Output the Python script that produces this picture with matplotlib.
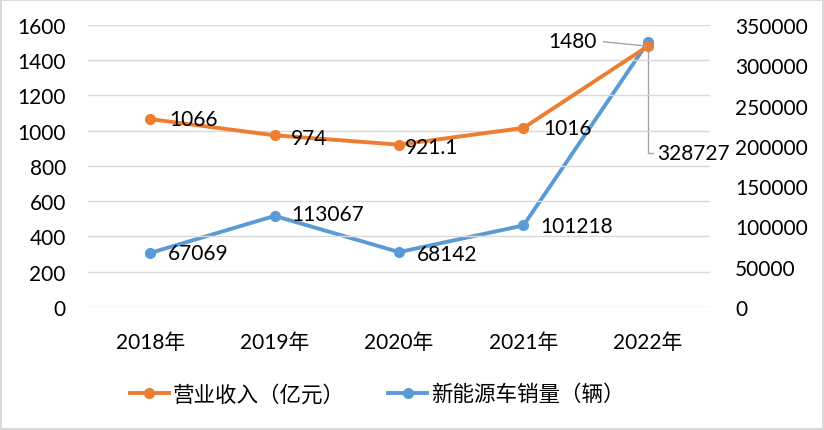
import matplotlib.pyplot as plt
import numpy as np

plt.rcParams["font.family"] = ["Lato", "Noto Sans CJK SC"]

_REV = "#ED7D31"  # 营业收入
_NEV = "#5B9BD5"  # 新能源车销量

years = ["2018年", "2019年", "2020年", "2021年", "2022年"]
revenue = [1066, 974, 921.1, 1016, 1480]
sales = [67069, 113067, 68142, 101218, 328727]
rev_labels = ["1066", "974", "921.1", "1016", "1480"]
sales_labels = ["67069", "113067", "68142", "101218", "328727"]

fig = plt.figure(figsize=(8.24, 4.31), dpi=100)
fig.patch.set_edgecolor("#D9D9D9")
fig.patch.set_linewidth(1.5)
ax = fig.add_axes([0.1068, 0.2854, 0.755, 0.6543])
ax2 = ax.twinx()

x = np.arange(len(years))
(l1,) = ax.plot(x, revenue, color=_REV, lw=2.8, marker="o", ms=7, label="营业收入（亿元）", zorder=3)
(l2,) = ax2.plot(x, sales, color=_NEV, lw=2.8, marker="o", ms=7, label="新能源车销量（辆）", zorder=3)

ax.set_xlim(-0.5, len(years) - 0.5)
ax.set_ylim(0, 1600)
ax.set_yticks(np.arange(0, 1601, 200))
ax2.set_ylim(0, 350000)
ax2.set_yticks(np.arange(0, 350001, 50000))
ax.set_xticks(x)
ax.set_xticklabels(years)
ax.grid(axis="y", color="#D9D9D9", lw=1)
ax.set_axisbelow(True)
for a in (ax, ax2):
    for s in a.spines.values():
        s.set_visible(False)
    a.tick_params(length=0, labelsize=15, colors="black")
ax.tick_params(axis="y", pad=16)
ax.tick_params(axis="x", pad=18)
ax2.tick_params(axis="y", pad=18)
ax.set_zorder(ax2.get_zorder() + 1)
ax.patch.set_visible(False)

# étiquettes de données
fs = 15
gray = "#A5A5A5"
rev_off = [(14, 0), (12, -2), (4, -1.5), (14, 0)]
for i in range(4):
    ax.annotate(rev_labels[i], (x[i], revenue[i]), xytext=rev_off[i],
                textcoords="offset points", fontsize=fs, va="center", ha="left")
ax.annotate(rev_labels[4], (x[4], revenue[4]), xytext=(-37, 3.6),
            textcoords="offset points", fontsize=fs, va="center", ha="right",
            arrowprops=dict(arrowstyle="-", color=gray, lw=1, relpos=(1, 0.5),
                            shrinkA=3, shrinkB=1))

sales_off = [(13, 0), (12, 1.5), (13, -1.5), (12, -0.5)]
for i in range(4):
    ax2.annotate(sales_labels[i], (x[i], sales[i]), xytext=sales_off[i],
                 textcoords="offset points", fontsize=fs, va="center", ha="left")
ax2.annotate(sales_labels[4], (x[4], sales[4]), xytext=(6.5, -80),
             textcoords="offset points", fontsize=fs, va="center", ha="left",
             arrowprops=dict(arrowstyle="-", color=gray, lw=1, relpos=(0, 0.5),
                             connectionstyle="angle,angleA=0,angleB=90,rad=0",
                             shrinkA=1, shrinkB=0))

fig.legend(handles=[l1, l2], loc="center", bbox_to_anchor=(0.458, 0.083), ncol=2,
           frameon=False, handlelength=1.8, handletextpad=0.2, columnspacing=2.0,
           prop={"family": ["Noto Sans CJK SC"], "size": 15.5})

fig.savefig("out.png", dpi=100)
